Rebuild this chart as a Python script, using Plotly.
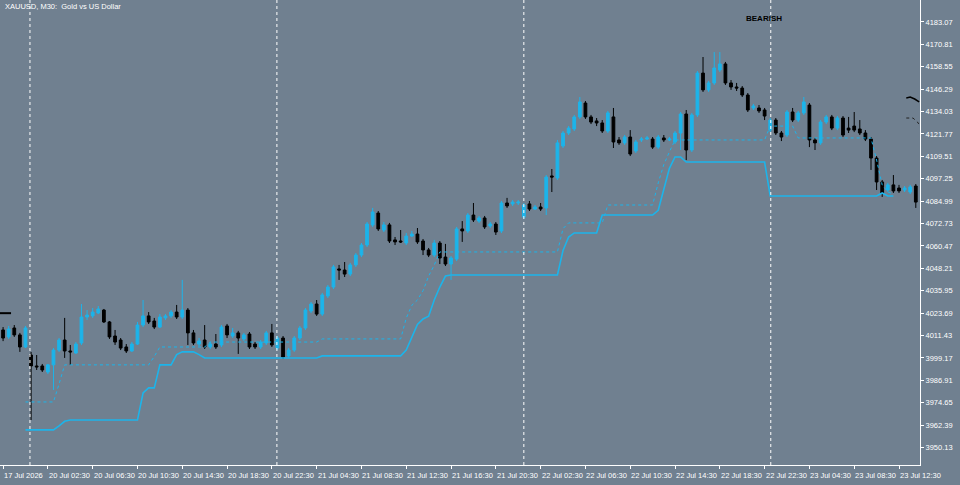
import plotly.graph_objects as go

# OHLC per M30 bar
opens = [4014.5, 4010.7, 4015.6, 4011.8, 4005.2, 4000.8, 3994.8, 3994.8, 3991.5, 3995.4,
         4003.5, 4009.0, 4003.0, 4001.9, 4007.4, 4021.6, 4022.2, 4023.8, 4025.4, 4018.9,
         4011.2, 4009.0, 4005.2, 4003.0, 4006.8, 4017.2, 4022.2, 4019.4, 4016.1, 4021.1,
         4022.2, 4024.3, 4021.6, 4025.4, 4012.9, 4006.8, 4009.0, 4005.2, 4006.8, 4006.3,
         4016.7, 4011.2, 4012.9, 4009.6, 4012.3, 4006.8, 4005.2, 4007.4, 4012.9, 4004.6,
         4010.1, 4000.3, 4003.5, 4010.1, 4015.6, 4024.9, 4028.7, 4023.2, 4033.1, 4038.0,
         4047.9, 4047.3, 4045.1, 4050.1, 4055.5, 4061.0, 4072.0, 4078.5, 4069.2, 4072.0,
         4063.8, 4063.2, 4062.1, 4065.9, 4067.0, 4063.2, 4058.3, 4055.5, 4062.1, 4054.4,
         4050.6, 4053.3, 4069.8, 4068.7, 4077.4, 4074.1, 4075.8, 4071.4, 4072.5, 4068.7,
         4084.0, 4083.5, 4084.0, 4076.3, 4083.5, 4080.7, 4081.8, 4081.3, 4098.8, 4097.7,
         4115.2, 4122.3, 4124.5, 4131.1, 4138.7, 4131.1, 4128.9, 4127.8, 4123.4, 4131.1,
         4118.5, 4116.9, 4120.1, 4112.5, 4118.5, 4119.0, 4119.0, 4114.6, 4119.6, 4118.5,
         4117.4, 4122.3, 4132.7, 4113.0, 4132.2, 4155.1, 4145.9, 4149.7, 4156.8, 4160.1,
         4149.7, 4147.5, 4146.9, 4143.1, 4136.0, 4136.0, 4134.9, 4123.9, 4129.4, 4122.3,
         4121.2, 4133.8, 4129.4, 4133.3, 4137.6, 4118.5, 4116.9, 4128.3, 4131.1, 4125.0,
         4130.5, 4125.0, 4126.1, 4124.5, 4122.3, 4119.0, 4108.6, 4095.5, 4091.1, 4093.9,
         4092.2, 4091.1, 4090.0, 4093.3]
highs = [4016.1, 4016.7, 4017.2, 4012.9, 4016.7, 4002.5, 4000.8, 3995.9, 3995.9, 4004.6,
         4010.1, 4021.1, 4006.3, 4007.9, 4028.7, 4025.4, 4026.5, 4027.6, 4026.0, 4019.4,
         4014.5, 4010.1, 4006.8, 4007.9, 4018.9, 4030.9, 4024.3, 4021.1, 4023.2, 4023.2,
         4025.4, 4028.2, 4041.9, 4026.5, 4014.5, 4010.1, 4017.2, 4007.9, 4012.3, 4017.2,
         4017.8, 4015.6, 4014.0, 4012.9, 4013.4, 4007.9, 4009.0, 4014.0, 4017.8, 4011.2,
         4011.2, 4004.6, 4011.2, 4016.7, 4026.5, 4029.8, 4030.9, 4034.8, 4039.1, 4050.1,
         4050.1, 4051.7, 4051.2, 4056.6, 4062.1, 4073.6, 4081.3, 4079.6, 4073.6, 4073.1,
         4065.4, 4069.2, 4067.6, 4068.7, 4070.3, 4064.3, 4059.4, 4063.8, 4063.2, 4061.6,
         4055.0, 4070.9, 4074.1, 4078.5, 4084.0, 4076.9, 4076.9, 4073.6, 4073.6, 4085.1,
         4086.8, 4085.6, 4085.6, 4084.0, 4085.1, 4082.9, 4084.0, 4099.3, 4102.6, 4118.5,
         4123.4, 4126.1, 4132.2, 4142.0, 4139.8, 4132.2, 4130.5, 4129.4, 4134.4, 4136.0,
         4120.1, 4121.2, 4123.9, 4118.5, 4120.1, 4120.7, 4120.1, 4121.2, 4121.2, 4120.1,
         4123.4, 4133.8, 4134.9, 4133.3, 4156.2, 4163.9, 4150.8, 4166.6, 4166.6, 4161.2,
         4151.3, 4149.7, 4148.0, 4144.2, 4138.2, 4137.6, 4136.0, 4130.5, 4130.5, 4123.4,
         4134.9, 4136.0, 4134.4, 4142.0, 4138.7, 4119.6, 4129.4, 4132.2, 4132.2, 4131.6,
         4131.6, 4131.1, 4133.8, 4129.4, 4123.9, 4120.1, 4109.7, 4096.6, 4095.0, 4099.3,
         4093.9, 4093.3, 4093.9, 4094.4]
lows = [4008.4, 4009.6, 4010.7, 4002.5, 4004.6, 3965.2, 3992.6, 3991.5, 3990.4, 3981.7,
        4002.5, 3999.2, 3995.4, 4001.4, 4006.3, 4020.0, 4021.1, 4023.2, 4018.3, 4009.6,
        4006.3, 4003.5, 4001.9, 4002.5, 4006.3, 4016.1, 4017.8, 4015.0, 4015.6, 4020.0,
        4021.1, 4020.5, 4020.5, 4006.3, 4006.3, 4005.7, 4004.1, 4004.1, 4004.1, 4005.2,
        4010.1, 4010.1, 4001.4, 4008.5, 4004.1, 4004.1, 4004.1, 4006.3, 4005.2, 4003.5,
        3998.6, 3999.2, 4002.5, 4009.0, 4014.5, 4023.8, 4022.2, 4022.2, 4032.0, 4036.9,
        4041.9, 4043.5, 4044.0, 4049.0, 4054.4, 4059.9, 4070.9, 4068.7, 4068.1, 4062.1,
        4061.0, 4062.1, 4061.0, 4065.4, 4061.6, 4055.5, 4054.4, 4054.4, 4050.6, 4049.5,
        4041.9, 4052.2, 4062.7, 4067.6, 4073.6, 4073.1, 4069.8, 4070.3, 4066.5, 4067.6,
        4081.3, 4082.4, 4082.9, 4075.2, 4079.6, 4080.2, 4079.6, 4077.4, 4090.0, 4096.6,
        4114.1, 4121.2, 4123.4, 4130.0, 4130.0, 4127.2, 4126.1, 4122.3, 4122.3, 4114.1,
        4115.8, 4115.8, 4109.7, 4111.4, 4117.4, 4118.5, 4113.6, 4113.6, 4117.4, 4117.9,
        4116.3, 4113.0, 4107.5, 4111.9, 4131.1, 4144.8, 4144.8, 4148.6, 4155.7, 4148.6,
        4145.9, 4145.3, 4142.0, 4133.8, 4134.9, 4133.3, 4129.4, 4122.8, 4121.2, 4117.9,
        4120.1, 4128.3, 4128.3, 4132.2, 4114.6, 4113.0, 4115.8, 4127.2, 4123.9, 4123.9,
        4120.1, 4122.3, 4122.8, 4121.2, 4117.9, 4102.1, 4091.1, 4087.3, 4090.0, 4089.5,
        4089.5, 4090.0, 4088.9, 4081.3]
closes = [4010.1, 4015.0, 4011.8, 4005.2, 4015.6, 3994.8, 3994.3, 3992.6, 3995.4, 4003.5,
          4009.0, 4003.0, 4002.5, 4006.8, 4021.6, 4022.7, 4024.3, 4026.0, 4018.9, 4010.7,
          4007.9, 4004.6, 4003.0, 4006.8, 4017.2, 4022.2, 4018.9, 4016.1, 4021.6, 4022.2,
          4024.3, 4021.6, 4025.4, 4012.9, 4007.4, 4008.5, 4005.2, 4006.8, 4005.2, 4016.1,
          4011.8, 4012.9, 4010.1, 4011.8, 4005.2, 4005.2, 4007.9, 4012.9, 4006.3, 4010.1,
          3999.7, 4003.5, 4010.1, 4015.6, 4025.4, 4028.7, 4023.2, 4033.7, 4038.0, 4049.0,
          4047.3, 4045.1, 4050.1, 4055.5, 4061.0, 4072.5, 4079.1, 4069.8, 4072.0, 4063.2,
          4062.7, 4062.7, 4065.9, 4067.0, 4062.7, 4058.3, 4055.5, 4062.1, 4053.9, 4050.6,
          4053.9, 4069.8, 4068.7, 4077.4, 4074.7, 4075.8, 4070.9, 4072.5, 4068.1, 4084.0,
          4082.4, 4084.5, 4084.5, 4082.9, 4080.7, 4081.8, 4080.7, 4098.2, 4098.2, 4116.9,
          4122.3, 4125.0, 4131.1, 4139.3, 4131.1, 4128.3, 4127.8, 4123.4, 4133.3, 4117.4,
          4116.9, 4120.1, 4110.8, 4117.4, 4119.0, 4119.6, 4114.6, 4120.1, 4118.5, 4119.0,
          4122.3, 4132.7, 4113.0, 4132.2, 4155.1, 4145.9, 4149.7, 4157.9, 4160.1, 4149.7,
          4147.5, 4146.9, 4143.1, 4134.9, 4137.1, 4134.4, 4131.6, 4129.4, 4122.3, 4120.1,
          4133.8, 4129.4, 4133.3, 4139.3, 4118.5, 4116.9, 4128.3, 4131.1, 4125.0, 4130.5,
          4121.2, 4123.9, 4123.9, 4122.3, 4119.0, 4108.6, 4095.5, 4089.5, 4093.9, 4090.6,
          4090.6, 4092.2, 4092.8, 4084.5]

# trailing stop lines (bar index -> price)
solid_bars = list(range(4, 160))
solid_vals = ([3959.8] * 6 + [3962.0, 3964.5] + [3965.2] * 13 + [3980.0, 3982.8, 3982.8]
              + [3995.4] * 3 + [4001.0, 4002.5, 4002.5, 4002.5, 4001.0] + [3999.2] * 21
              + [4000.3] * 15 + [4003.5, 4010.7, 4017.5, 4020.5, 4022.0, 4030.9, 4038.0, 4044.0]
              + [4044.6] * 20 + [4058.0, 4065.4] + [4067.6] * 5 + [4077.4] * 10
              + [4080.0, 4092.0, 4103.0, 4109.2, 4109.2] + [4106.4] * 15
              + [4087.8] * 20 + [4089.5, 4087.8, 4087.8])
dash_bars = list(range(4, 160))
dash_vals = ([3975.1] * 6 + [3985.0] + [3995.4] * 16 + [4000.0] + [4005.2] * 9
             + [4007.9] * 20 + [4009.6] * 15
             + [4021.0, 4028.0, 4030.9, 4036.0, 4044.0, 4050.0] + [4057.2] * 22
             + [4070.0] + [4073.1] * 7 + [4082.9] * 9 + [4095.0, 4105.0, 4112.0]
             + [4118.5] * 17 + [4126.1] * 5 + [4119.6] * 14
             + [4107.5, 4093.9, 4090.0, 4088.9])

day_starts = [4.8, 48.9, 93.0, 137.1]
tick_bars = [0] + [8 + 8 * k for k in range(20)]
tick_text = ["17 Jul 2026",
             "20 Jul 02:30", "20 Jul 06:30", "20 Jul 10:30", "20 Jul 14:30", "20 Jul 18:30", "20 Jul 22:30",
             "21 Jul 04:30", "21 Jul 08:30", "21 Jul 12:30", "21 Jul 16:30", "21 Jul 20:30",
             "22 Jul 02:30", "22 Jul 06:30", "22 Jul 10:30", "22 Jul 14:30", "22 Jul 18:30", "22 Jul 22:30",
             "23 Jul 04:30", "23 Jul 08:30", "23 Jul 12:30"]
price_ticks = [4183.07, 4170.81, 4158.55, 4146.29, 4134.03, 4121.77, 4109.51, 4097.25,
               4084.99, 4072.73, 4060.47, 4048.21, 4035.95, 4023.69, 4011.43, 3999.17,
               3986.91, 3974.65, 3962.39, 3950.13]

BG = "#708090"
UP = "#1cb4ea"
WHITE = "#ffffff"
FONT = dict(color=WHITE, size=7.5, family="Liberation Sans")

fig = go.Figure()
fig.add_trace(go.Scatter(x=dash_bars, y=dash_vals, mode="lines",
                         line=dict(color=UP, width=1, dash="dot"), hoverinfo="skip"))
fig.add_trace(go.Scatter(x=solid_bars, y=solid_vals, mode="lines",
                         line=dict(color=UP, width=1.6), hoverinfo="skip"))
fig.add_trace(go.Candlestick(
    x=list(range(len(opens))), open=opens, high=highs, low=lows, close=closes,
    increasing=dict(line=dict(color=UP, width=1), fillcolor=UP),
    decreasing=dict(line=dict(color="#000000", width=1), fillcolor="#000000"),
    whiskerwidth=0,
))
# small indicator marks at the right edge
fig.add_trace(go.Scatter(x=[161.3, 162.0, 162.8, 163.6], y=[4141.5, 4142.0, 4140.9, 4139.3],
                         mode="lines", line=dict(color="#000000", width=1.5), hoverinfo="skip"))
fig.add_trace(go.Scatter(x=[161.3, 162.5, 163.3, 163.9], y=[4130.5, 4130.5, 4128.3, 4125.6],
                         mode="lines", line=dict(color="#222222", width=1, dash="dot"), hoverinfo="skip"))

for d in day_starts:
    fig.add_vline(x=d, line=dict(color=WHITE, width=1, dash="dot"))

fig.add_shape(type="line", xref="paper", yref="y", x0=0.0, x1=0.012, y0=4023.7, y1=4023.7,
              line=dict(color="#000000", width=2))

# time labels sit to the right of their tick, as in MT
for b, t in zip(tick_bars, tick_text):
    fig.add_annotation(x=b, y=0, xref="x", yref="paper", xanchor="left", yanchor="top",
                       yshift=-4, xshift=-1, text=t, showarrow=False, font=FONT)

fig.add_annotation(x=0.003, y=1.0, xref="paper", yref="paper", xanchor="left", yanchor="top",
                   text="XAUUSD, M30:  Gold vs US Dollar", showarrow=False, font=FONT)
fig.add_annotation(x=0.83, y=0.975, xref="paper", yref="paper", xanchor="center", yanchor="top",
                   text="<b>BEARISH</b>", showarrow=False,
                   font=dict(color="#000000", size=8, family="Liberation Sans"))

fig.update_layout(
    width=960, height=485,
    paper_bgcolor=BG, plot_bgcolor=BG,
    margin=dict(l=0, r=40, t=0, b=20, autoexpand=False),
    showlegend=False,
    xaxis=dict(range=[-0.55, 163.75], rangeslider=dict(visible=False), showgrid=False,
               zeroline=False, tickvals=tick_bars, showticklabels=False,
               ticks="outside", ticklen=3, tickcolor=WHITE, showline=True,
               linecolor=WHITE, linewidth=1),
    yaxis=dict(range=[3940.6, 4195.1], side="right", showgrid=False, zeroline=False,
               tickvals=price_ticks, ticktext=[f"{v:.2f}" for v in price_ticks],
               ticks="outside", ticklen=3, tickcolor=WHITE, showline=True,
               linecolor=WHITE, linewidth=1, tickfont=FONT),
)

fig.write_html("out.html", config={"displayModeBar": False},
               post_script="document.body.style.margin='0';")
